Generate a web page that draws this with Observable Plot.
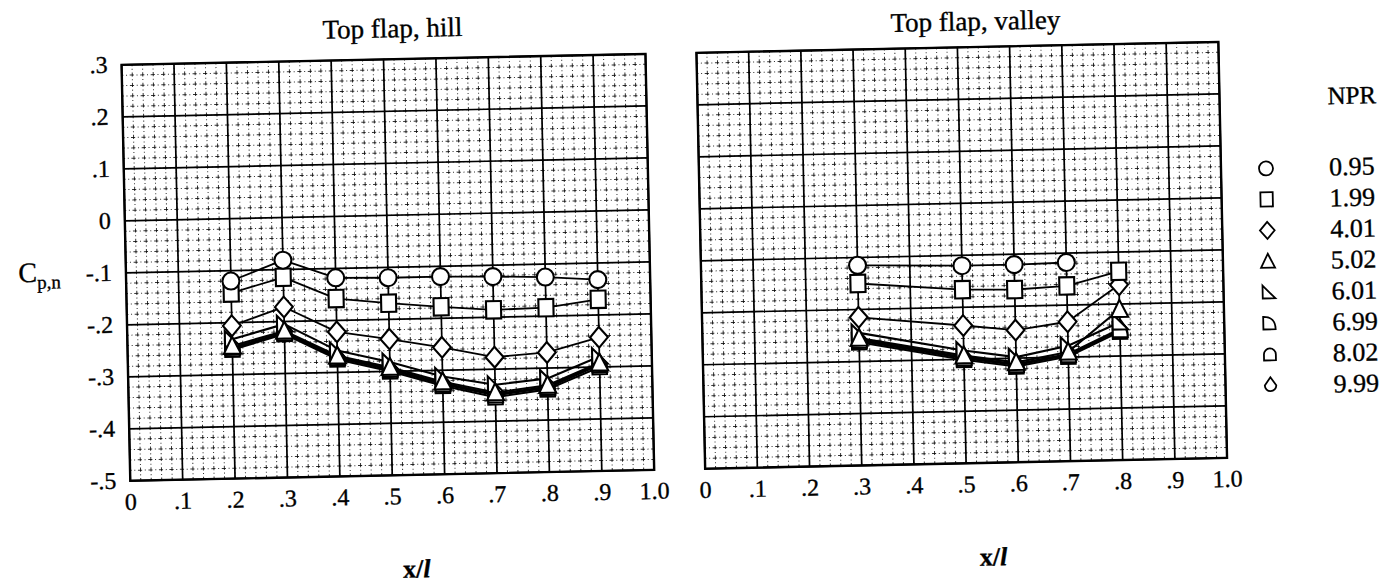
<!DOCTYPE html>
<html>
<head>
<meta charset="utf-8">
<script src="https://cdn.jsdelivr.net/npm/d3@7"></script>
<script src="https://cdn.jsdelivr.net/npm/@observablehq/plot@0.6"></script>
<style>
  html, body { margin: 0; padding: 0; background: #fff; }
  #page { position: relative; width: 1382px; height: 588px; overflow: hidden; background: #fff; }
  #root { position: absolute; left: 0; top: 0; width: 1382px; height: 588px;
          transform: rotate(-1.2deg); transform-origin: 691px 294px;
          font-family: "Liberation Serif", "Times New Roman", serif; color: #000; }
  .abs { position: absolute; white-space: nowrap; line-height: 1.1; transform: translate(-50%, -50%); -webkit-text-stroke: 0.35px #000; }
  svg { overflow: visible; }
  svg text { stroke: #000; stroke-width: 0.35px; }
</style>
</head>
<body>
<div id="page"><div id="root"></div></div>
<script>
// ---------------- data ----------------
const npr = ["0.95", "1.99", "4.01", "5.02", "6.01", "6.99", "8.02", "9.99"];

const xTicks = [0, 0.1, 0.2, 0.3, 0.4, 0.5, 0.6, 0.7, 0.8, 0.9, 1.0];
const xTickLabels = ["0", ".1", ".2", ".3", ".4", ".5", ".6", ".7", ".8", ".9", "1.0"];
const yTicks = [0.3, 0.2, 0.1, 0, -0.1, -0.2, -0.3, -0.4, -0.5];
const yTickLabels = [".3", ".2", ".1", "0", "-.1", "-.2", "-.3", "-.4", "-.5"];

// Top flap, hill
const hillX = [0.2, 0.3, 0.4, 0.5, 0.6, 0.7, 0.8, 0.9];
const hill_095 = [-0.120, -0.082, -0.118, -0.120, -0.120, -0.122, -0.125, -0.132];
const hill_199 = [-0.143, -0.115, -0.158, -0.169, -0.178, -0.186, -0.184, -0.170];
const hill_401 = [-0.206, -0.172, -0.222, -0.238, -0.256, -0.277, -0.270, -0.243];
const hill_502 = [-0.245, -0.218, -0.268, -0.292, -0.322, -0.345, -0.333, -0.292];
const hill_601 = [-0.232, -0.205, -0.258, -0.282, -0.312, -0.330, -0.320, -0.280];
const hill_699 = [-0.248, -0.222, -0.272, -0.297, -0.327, -0.350, -0.338, -0.296];
const hill_802 = [-0.252, -0.224, -0.275, -0.300, -0.330, -0.354, -0.341, -0.300];
const hill_999 = [-0.250, -0.220, -0.270, -0.295, -0.325, -0.348, -0.336, -0.294];

// Top flap, valley
const valleyX = [0.3, 0.5, 0.6, 0.7, 0.8];
const valley_095 = [-0.115, -0.120, -0.120, -0.118, null];
const valley_199 = [-0.150, -0.166, -0.168, -0.163, -0.137];
const valley_401 = [-0.215, -0.235, -0.246, -0.232, -0.163];
const valley_502 = [-0.255, -0.293, -0.308, -0.290, -0.210];
const valley_601 = [-0.245, -0.283, -0.298, -0.278, -0.235];
const valley_699 = [-0.260, -0.298, -0.313, -0.296, -0.250];
const valley_802 = [-0.263, -0.301, -0.316, -0.299, -0.253];
const valley_999 = [-0.258, -0.296, -0.311, -0.294, -0.248];

const hillSeries = [hill_095, hill_199, hill_401, hill_502, hill_601, hill_699, hill_802, hill_999];
const valleySeries = [valley_095, valley_199, valley_401, valley_502, valley_601, valley_699, valley_802, valley_999];

// ---------------- symbols ----------------
function sym(fn) { return { draw(ctx, size) { fn(ctx, Math.sqrt(size / Math.PI)); } }; }
const symbols = [
  sym((c, r) => { c.moveTo(r, 0); c.arc(0, 0, r, 0, 2 * Math.PI); c.closePath(); }),
  sym((c, r) => { const w = 0.88 * r, h = 1.02 * r; c.moveTo(-w, -h); c.lineTo(w, -h); c.lineTo(w, h); c.lineTo(-w, h); c.closePath(); }),
  sym((c, r) => { c.moveTo(0, -1.22 * r); c.lineTo(1.05 * r, 0); c.lineTo(0, 1.22 * r); c.lineTo(-1.05 * r, 0); c.closePath(); }),
  sym((c, r) => { c.moveTo(0, -1.1 * r); c.lineTo(1.0 * r, 0.9 * r); c.lineTo(-1.0 * r, 0.9 * r); c.closePath(); }),
  sym((c, r) => { c.moveTo(-0.85 * r, -1.0 * r); c.lineTo(0.95 * r, 0.85 * r); c.lineTo(-0.85 * r, 0.85 * r); c.closePath(); }),
  sym((c, r) => { c.moveTo(-0.85 * r, -0.95 * r); c.lineTo(-0.85 * r, 0.85 * r); c.lineTo(0.9 * r, 0.85 * r); c.quadraticCurveTo(0.9 * r, -0.95 * r, -0.85 * r, -0.95 * r); c.closePath(); }),
  sym((c, r) => { const a = 0.85 * r; c.moveTo(-a, 0.85 * r); c.lineTo(-a, 0); c.arc(0, 0, a, Math.PI, 2 * Math.PI); c.lineTo(a, 0.85 * r); c.closePath(); }),
  sym((c, r) => { const a = 0.82 * r; c.moveTo(0, -1.15 * r); c.lineTo(a, 0); c.arc(0, 0, a, 0, Math.PI); c.closePath(); })
];

// ---------------- helpers ----------------
const FONT = '"Liberation Serif", "Times New Roman", serif';
const fmtX = d => xTickLabels[xTicks.findIndex(t => Math.abs(t - d) < 1e-9)];
const fmtY = d => yTickLabels[yTicks.findIndex(t => Math.abs(t - d) < 1e-9)];

function rowsFor(xs, series) {
  return series.map((vals, k) => xs.map((x, i) => ({ npr: npr[k], x, y: vals[i] })).filter(d => d.y != null));
}

const TOP = 52.5, PH = 416, H = 588;

function panel({ xs, series, width, ml, mr, showY }) {
  const pw = width - ml - mr;
  const minor = d3.range(0, 51).map(i => i / 50);
  const minorY = d3.range(0, 41).map(i => -0.5 + i / 50);
  const px = pw / 50, py = PH / 40;
  const rows = rowsFor(xs, series);
  const marks = [
    Plot.ruleX(minor, { stroke: "#000", strokeWidth: 1, strokeOpacity: 0.8,
      strokeDasharray: `${0.4 * py},${0.25 * py},${0.1 * py},${0.25 * py}`, strokeDashoffset: 0.2 * py }),
    Plot.ruleY(minorY, { stroke: "#000", strokeWidth: 1, strokeOpacity: 0.8,
      strokeDasharray: `${0.4 * px},${0.25 * px},${0.1 * px},${0.25 * px}`, strokeDashoffset: 0.2 * px }),
    Plot.ruleX(xTicks, { stroke: "#000", strokeWidth: 1.7 }),
    Plot.ruleY(yTicks, { stroke: "#000", strokeWidth: 1.7 }),
    Plot.frame({ stroke: "#000", strokeWidth: 2.4 }),
    Plot.axisX({ ticks: xTicks, tickSize: 0, tickPadding: 12, tickFormat: fmtX, fontSize: 24, label: null })
  ];
  if (showY) marks.push(Plot.axisY({ ticks: yTicks, tickSize: 0, tickPadding: 14, tickFormat: fmtY, fontSize: 24, label: null }));
  for (let k = rows.length - 1; k >= 0; k--) {
    marks.push(Plot.line(rows[k], { x: "x", y: "y", stroke: "#000", strokeWidth: k >= 3 ? 2.1 : 1.8, curve: "linear" }));
  }
  for (let k = rows.length - 1; k >= 0; k--) {
    marks.push(Plot.dot(rows[k], { x: "x", y: "y", symbol: symbols[k], r: 8.5, fill: "#fff", stroke: "#000", strokeWidth: 2.1 }));
  }
  return Plot.plot({
    width, height: H, marginLeft: ml, marginRight: mr, marginTop: TOP, marginBottom: H - TOP - PH,
    x: { domain: [0, 1], axis: null },
    y: { domain: [-0.5, 0.3], axis: null },
    style: { fontFamily: FONT, background: "transparent", color: "#000", overflow: "visible" },
    marks
  });
}

const root = document.getElementById("root");
function place(el, left, top) {
  el.style.position = "absolute"; el.style.left = left + "px"; el.style.top = top + "px";
  root.appendChild(el);
}

// left panel (hill): plot area x 126..650
place(panel({ xs: hillX, series: hillSeries, width: 680, ml: 126, mr: 30, showY: true }), 0, 0);
// right panel (valley): plot area x 701..1223
place(panel({ xs: valleyX, series: valleySeries, width: 560, ml: 21, mr: 17, showY: false }), 680, 0);

// legend
const legendMarks = [
  Plot.text(["NPR"], { x: () => 1, y: () => npr[0], dy: -71, text: d => d, textAnchor: "start", fontSize: 25 }),
  Plot.text(npr, { x: () => 1, y: d => d, text: d => d, textAnchor: "start", fontSize: 26 })
];
npr.forEach((n, k) => legendMarks.push(Plot.dot([n], { x: () => 0, y: d => d, symbol: symbols[k], r: 7, fill: "#fff", stroke: "#000", strokeWidth: 1.8 })));
place(Plot.plot({
  width: 150, height: 440, margin: 0,
  x: { type: "linear", domain: [0, 1], range: [36, 99], axis: null },
  y: { type: "point", domain: npr, range: [177, 399], padding: 0, axis: null },
  style: { fontFamily: FONT, background: "transparent", color: "#000", overflow: "visible" },
  marks: legendMarks
}), 1232, 0);

// titles and axis labels
function label(html, x, y, size, extra = "") {
  const d = document.createElement("div");
  d.className = "abs";
  d.style.left = x + "px"; d.style.top = y + "px"; d.style.fontSize = size + "px";
  d.style.cssText += extra;
  d.innerHTML = html;
  root.appendChild(d);
}
label("Top flap, hill", 398, 23, 27);
label("Top flap, valley", 981, 28, 27);
label('C<sub style="font-size:19px;vertical-align:-7px">p,n</sub>', 40, 262, 28);
label('x/<i>l</i>', 411, 564, 26, "font-weight:bold;");
label('x/<i>l</i>', 988, 564, 26, "font-weight:bold;");
</script>
</body>
</html>
